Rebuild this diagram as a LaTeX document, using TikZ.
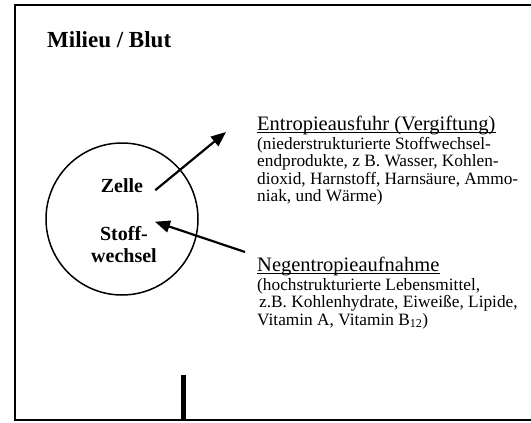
\documentclass[tikz,border=0pt]{standalone}
\usepackage{fontspec}
\setmainfont{Liberation Serif}
\usetikzlibrary{arrows.meta}

\begin{document}
\begin{tikzpicture}[x=1pt,y=-1pt,
    head/.style={anchor=base west, inner sep=0pt, font=\fontsize{20.5}{22}\selectfont},
    desc/.style={anchor=base west, inner sep=0pt, align=left, font=\fontsize{17.3}{17.5}\selectfont},
    cell/.style={anchor=base, inner sep=0pt, align=center, font=\fontsize{20}{22}\selectfont\bfseries},
    uline/.style={line width=0.9pt},
    flow/.style={-{Triangle[length=15pt,width=12pt]}, line width=2.2pt}]
    \useasboundingbox (0,0) rectangle (531,423);
    % frame of the milieu
    \draw[line width=2pt] (531,5) -- (15,5) -- (15,420) -- (531,420);
    \draw[line width=5pt] (183.5,375) -- (183.5,420);
    \node[anchor=base west, inner sep=0pt, font=\fontsize{23}{25}\selectfont\bfseries] at (47,47) (milieu) {Milieu / Blut};
    % the cell
    \node[draw, circle, line width=1.5pt, minimum size=152pt] at (122,219) (kreis) {};
    \node[cell] at (122,192) (zelle) {Zelle};
    \node[cell] at (124,262) (stoff) {Stoff-\\wechsel};
    % entropy out (base = last line)
    \node[head] at (257,130) (ausfuhr) {Entropieausfuhr (Vergiftung)};
    \draw[uline] ([yshift=-2.5pt]ausfuhr.base west) -- ([yshift=-2.5pt]ausfuhr.base east);
    \node[desc] at (257,201.5) (ausfuhrtext) {(niederstrukturierte Stoffwechsel-\\endprodukte, z B. Wasser, Kohlen-\\dioxid, Harnstoff, Harnsäure, Ammo-\\niak, und Wärme)};
    % negentropy in
    \node[head] at (257,271) (aufnahme) {Negentropieaufnahme};
    \draw[uline] ([yshift=-2.5pt]aufnahme.base west) -- ([yshift=-2.5pt]aufnahme.base east);
    \node[desc] at (257,325) (aufnahmetext) {(hochstrukturierte Lebensmittel,\\\hspace{2pt}z.B. Kohlenhydrate, Eiweiße, Lipide,\\Vitamin A, Vitamin B\textsubscript{12})};
    \coordinate (ausgang) at (226,132);
    \coordinate (eingang) at (245,252);
    \draw[flow] ([xshift=12pt,yshift=-5pt]zelle.east) -- (ausgang);
    \draw[flow] (eingang) -- ([xshift=-2pt,yshift=4pt]stoff.north east);
\end{tikzpicture}
\end{document}
